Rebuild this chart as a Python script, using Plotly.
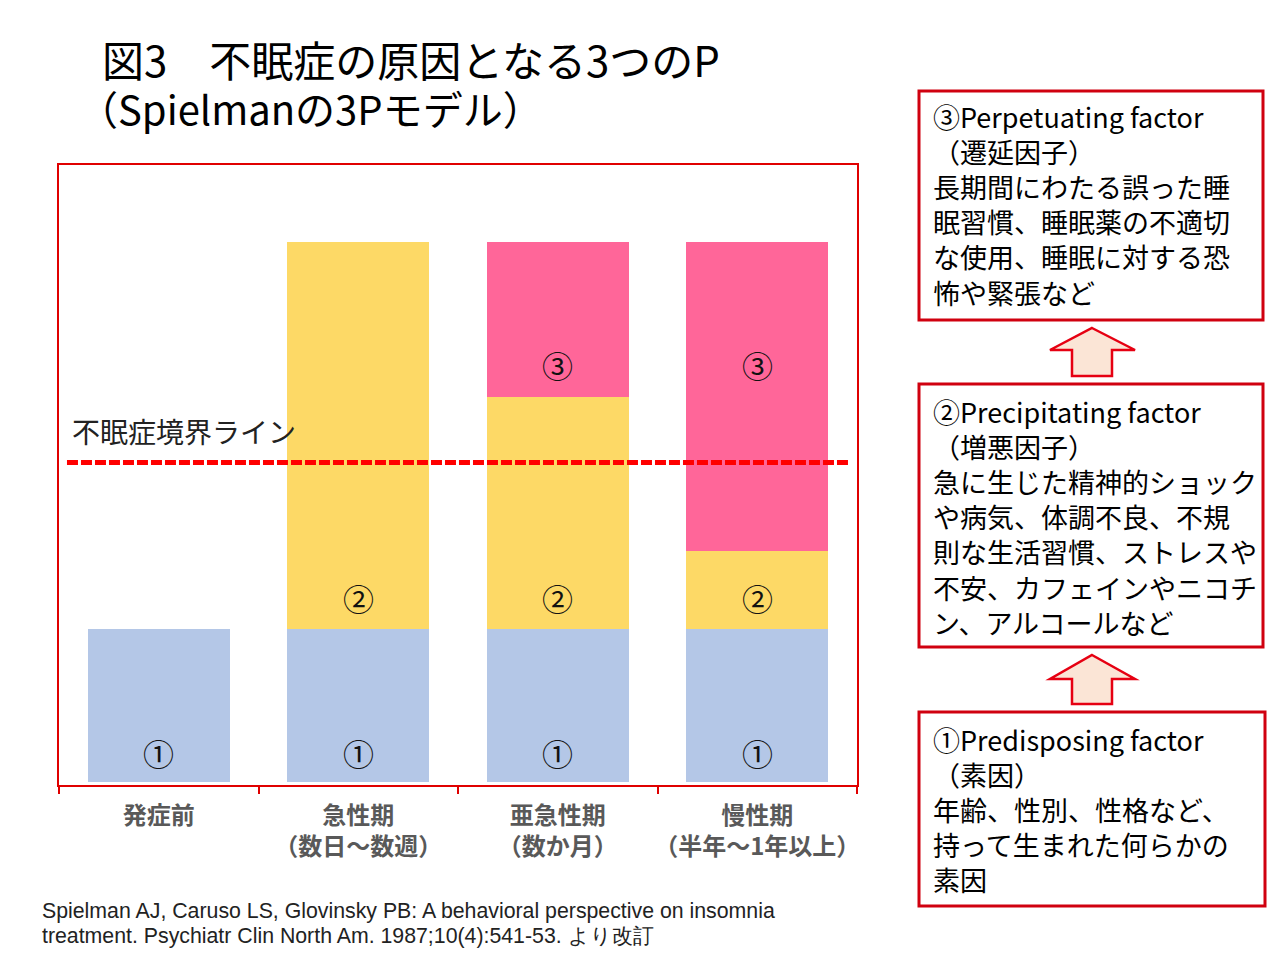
import plotly.graph_objects as go

# ---------------- data ----------------
categories = ["発症前", "急性期", "亜急性期", "慢性期"]
tick_labels = ["発症前", "急性期<br>（数日～数週）", "亜急性期<br>（数か月）", "慢性期<br>（半年～1年以上）"]
predisposing = [28.3, 28.3, 28.3, 28.3]     # ① 素因
precipitating = [0, 71.7, 43.0, 14.4]       # ② 増悪因子
perpetuating = [0, 0, 28.7, 57.3]           # ③ 遷延因子
threshold = 59.1                            # 不眠症境界ライン
threshold_label = "不眠症境界ライン"
segment_marks = ["①", "②", "③"]

title_line1 = "図3　不眠症の原因となる3つのP"
title_line2 = "（Spielmanの3Pモデル）"
box3_text = ["③Perpetuating factor", "（遷延因子）", "長期間にわたる誤った睡", "眠習慣、睡眠薬の不適切",
             "な使用、睡眠に対する恐", "怖や緊張など"]
box2_text = ["②Precipitating factor", "（増悪因子）", "急に生じた精神的ショック", "や病気、体調不良、不規",
             "則な生活習慣、ストレスや", "不安、カフェインやニコチ", "ン、アルコールなど"]
box1_text = ["①Predisposing factor", "（素因）", "年齢、性別、性格など、", "持って生まれた何らかの", "素因"]
citation = ["Spielman AJ, Caruso LS, Glovinsky PB: A behavioral perspective on insomnia",
            "treatment. Psychiatr Clin North Am. 1987;10(4):541-53. より改訂"]

colors = ["#B4C7E7", "#FDD966", "#FF6699"]
JP = "Noto Sans CJK JP"
W, H = 1280, 960


def px(x):
    return x / W


def py(y):
    return 1 - y / H


fig = go.Figure()
for vals, col, name in zip([predisposing, precipitating, perpetuating], colors, segment_marks):
    fig.add_trace(go.Bar(x=categories, y=vals, marker=dict(color=col, line=dict(width=0)),
                         width=0.71, name=name, showlegend=False, hoverinfo="skip"))

annotations = []
mark_font = dict(family=JP, size=31, color="#111")
# circled numbers in bars
for i, c in enumerate(categories):
    annotations.append(dict(x=c, y=5.4, xref="x", yref="y", text="①", showarrow=False,
                            font=mark_font, yanchor="middle"))
    if precipitating[i] > 0:
        annotations.append(dict(x=c, y=predisposing[i] + 5.9, xref="x", yref="y", text="②", showarrow=False,
                                font=mark_font, yanchor="middle"))
    if perpetuating[i] > 0:
        annotations.append(dict(x=c, y=77.2, xref="x", yref="y", text="③", showarrow=False,
                                font=mark_font, yanchor="middle"))

# threshold label
annotations.append(dict(x=px(70), xref="paper", y=threshold, yref="y", yanchor="bottom", yshift=10,
                        xanchor="left", text=threshold_label, showarrow=False,
                        font=dict(family=JP, size=28, color="#222")))

# titles
annotations.append(dict(x=px(100), y=py(59), xref="paper", yref="paper", xanchor="left", yanchor="middle",
                        text=title_line1, showarrow=False, font=dict(family=JP, size=42, color="#000")))
annotations.append(dict(x=px(76), y=py(108), xref="paper", yref="paper", xanchor="left", yanchor="middle",
                        text=title_line2, showarrow=False, font=dict(family=JP, size=40, color="#000")))

# right boxes text
for lines, top in [(box3_text, 118), (box2_text, 413), (box1_text, 741)]:
    annotations.append(dict(x=px(931), y=py(top - 23), xref="paper", yref="paper", xanchor="left",
                            yanchor="top", align="left", text="<br>".join(lines), showarrow=False,
                            font=dict(family=JP, size=27, color="#000")))

# citation (one annotation per line)
for line, yc in zip(citation, [911, 936]):
    annotations.append(dict(x=px(40), y=py(yc), xref="paper", yref="paper", xanchor="left", yanchor="middle",
                            align="left", text=line, showarrow=False,
                            font=dict(family="Liberation Sans", size=21.3, color="#222")))

shapes = []
# threshold dashed line
shapes.append(dict(type="line", xref="x domain", yref="y", x0=0.01, x1=0.99, y0=threshold, y1=threshold,
                   line=dict(color="#FF0000", width=5, dash="11px,3px")))
# right boxes
for x0, y0, x1, y1 in [(919, 91, 1263, 320), (919, 384, 1263, 647), (919, 712, 1265, 906)]:
    shapes.append(dict(type="rect", xref="paper", yref="paper", x0=px(x0), x1=px(x1), y0=py(y0), y1=py(y1),
                       line=dict(color="#D0000F", width=3), fillcolor="rgba(0,0,0,0)"))
# up arrows
for tip, base, bottom in [(328, 350, 376), (655, 679, 704)]:
    pts = [(1092, tip), (1135, base), (1112, base), (1112, bottom), (1072, bottom), (1072, base), (1050, base)]
    path = "M " + " L ".join(f"{px(x):.5f},{py(y):.5f}" for x, y in pts) + " Z"
    shapes.append(dict(type="path", xref="paper", yref="paper", path=path, fillcolor="#FBE5D6",
                       line=dict(color="#E60012", width=2.5)))

fig.update_layout(
    width=W, height=H, margin=dict(l=0, r=0, t=0, b=0, autoexpand=False),
    paper_bgcolor="white", plot_bgcolor="white",
    barmode="stack", bargap=0.29,
    annotations=annotations, shapes=shapes,
    xaxis=dict(domain=[px(59), px(857)], type="category", range=[-0.5, 3.5], automargin=False,
               tickvals=categories, ticktext=tick_labels, tickson="boundaries", tickangle=0,
               ticks="outside", ticklen=7, tickcolor="#E00000", tickwidth=2, ticklabelstandoff=8,
               showline=True, linecolor="#E00000", linewidth=2, mirror=True, showgrid=False,
               tickfont=dict(family=JP, size=24, color="#595959", weight="bold")),
    yaxis=dict(domain=[py(785), py(165)], range=[-0.6, 114.2], showticklabels=False, ticks="",
               automargin=False,
               showline=True, linecolor="#E00000", linewidth=2, mirror=True, showgrid=False, zeroline=False),
)

fig.write_html("out.html")
